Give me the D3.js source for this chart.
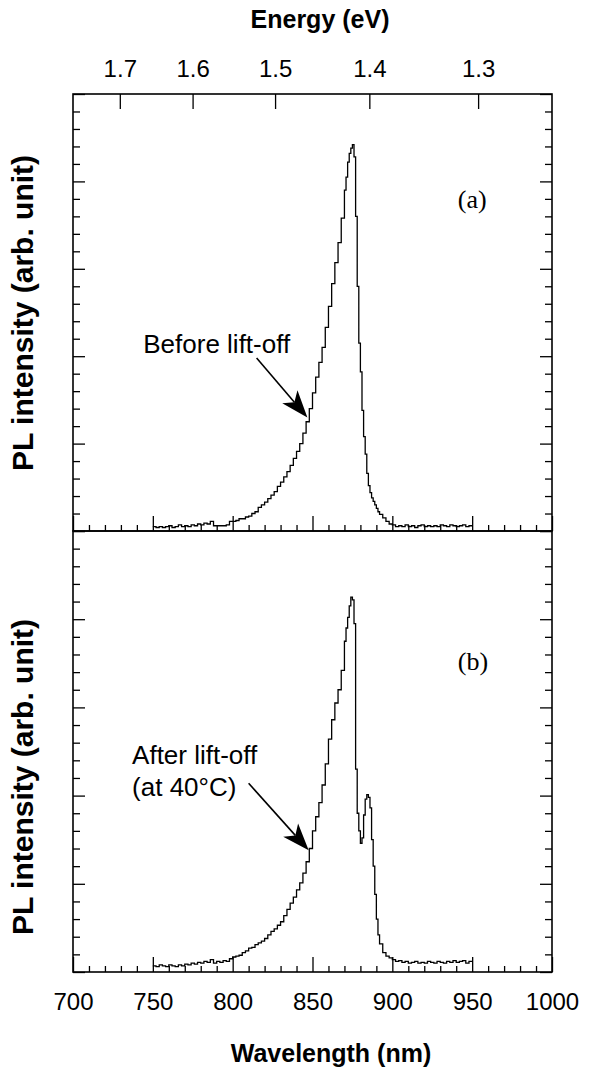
<!DOCTYPE html>
<html>
<head>
<meta charset="utf-8">
<script src="https://d3js.org/d3.v7.min.js"></script>
<style>
  body { margin: 0; background: #fff; }
  svg text { font-family: "Liberation Sans", Arial, Helvetica, sans-serif; fill: #000; }
</style>
</head>
<body>
<div id="chart"></div>
<script>
'use strict';

/***************************** Data ***********************************/

// wavelength grid of the spectra (nm)
var wavelengths = [
  750, 752, 754, 756, 758, 760, 762, 764, 766, 768,
  770, 772, 774, 776, 778, 780, 782, 784, 786, 788,
  790, 792, 794, 796, 798, 800, 802, 804, 806, 808,
  810, 812, 814, 816, 818, 820, 822, 824, 826, 828,
  830, 832, 834, 836, 838, 840, 842, 844, 846, 848,
  850, 852, 854, 856, 858, 860, 862, 864, 866, 868,
  870, 871, 872, 873, 874, 875, 876, 877, 878, 879,
  880, 881, 882, 883, 884, 885, 886, 887, 888, 889,
  890, 891, 892, 894, 896, 898, 900, 902, 904, 906,
  908, 910, 912, 914, 916, 918, 920, 922, 924, 926,
  928, 930, 932, 934, 936, 938, 940, 942, 944, 946,
  948, 950
];

// (a) before lift-off, PL intensity (arb. unit)
var beforeLiftOff = [
  0.05, 0.04, 0.05, 0.04, 0.05, 0.06, 0.04, 0.05, 0.07, 0.05,
  0.06, 0.05, 0.07, 0.06, 0.08, 0.07, 0.09, 0.08, 0.11, 0.06,
  0.06, 0.06, 0.06, 0.07, 0.11, 0.11, 0.12, 0.14, 0.14, 0.16,
  0.17, 0.20, 0.22, 0.27, 0.30, 0.33, 0.37, 0.41, 0.45, 0.51,
  0.56, 0.62, 0.68, 0.75, 0.83, 0.91, 1.00, 1.12, 1.25, 1.40,
  1.58, 1.76, 1.93, 2.10, 2.33, 2.57, 2.83, 3.07, 3.30, 3.58,
  3.90, 4.05, 4.22, 4.32, 4.38, 4.42, 4.28, 3.60, 2.80, 2.15,
  1.82, 1.38, 1.08, 0.88, 0.66, 0.52, 0.44, 0.38, 0.34, 0.30,
  0.26, 0.22, 0.19, 0.15, 0.11, 0.08, 0.07, 0.05, 0.06, 0.05,
  0.07, 0.05, 0.06, 0.04, 0.06, 0.07, 0.05, 0.06, 0.05, 0.06,
  0.05, 0.07, 0.06, 0.05, 0.07, 0.06, 0.05, 0.06, 0.07, 0.05,
  0.06, 0.06
];

// (b) after lift-off at 40 C
var afterLiftOff = [
  0.07, 0.06, 0.08, 0.07, 0.06, 0.08, 0.07, 0.06, 0.08, 0.07,
  0.09, 0.08, 0.10, 0.09, 0.11, 0.10, 0.12, 0.11, 0.14, 0.10,
  0.12, 0.11, 0.13, 0.12, 0.15, 0.17, 0.18, 0.19, 0.22, 0.24,
  0.27, 0.28, 0.31, 0.33, 0.35, 0.38, 0.42, 0.46, 0.49, 0.53,
  0.57, 0.64, 0.71, 0.78, 0.85, 0.93, 1.01, 1.12, 1.25, 1.40,
  1.60, 1.76, 1.92, 2.12, 2.36, 2.64, 2.86, 3.05, 3.20, 3.42,
  3.75, 3.90, 4.02, 4.15, 4.25, 4.22, 3.95, 2.30, 1.80, 1.60,
  1.46, 1.52, 1.78, 1.96, 2.01, 1.98, 1.86, 1.50, 1.20, 0.88,
  0.60, 0.42, 0.32, 0.22, 0.18, 0.16, 0.14, 0.12, 0.13, 0.11,
  0.12, 0.10, 0.11, 0.12, 0.10, 0.11, 0.10, 0.12, 0.11, 0.10,
  0.12, 0.11, 0.10, 0.12, 0.11, 0.13, 0.11, 0.12, 0.13, 0.10,
  0.12, 0.12
];

// axis ticks
var wavelengthTicks = [700, 750, 800, 850, 900, 950, 1000];
var wavelengthMinorTicks = [
  710, 720, 730, 740, 760, 770, 780, 790, 810, 820, 830, 840,
  860, 870, 880, 890, 910, 920, 930, 940, 960, 970, 980, 990
];
var energyTicks = [1.7, 1.6, 1.5, 1.4, 1.3];
var intensityTicks = [0, 1, 2, 3, 4, 5];
var intensityMinorTicks = [
  0.2, 0.4, 0.6, 0.8, 1.2, 1.4, 1.6, 1.8, 2.2, 2.4, 2.6, 2.8,
  3.2, 3.4, 3.6, 3.8, 4.2, 4.4, 4.6, 4.8
];

var hc = 1239.84; // eV nm

/*************************** Layout ***********************************/

var width = 590;
var height = 1071;
var plotLeft = 73;
var plotRight = 552;

var panels = [
  { top: 94, bottom: 531, values: beforeLiftOff, tag: "(a)", tagAt: [941, 3.7], labelY: 313,
    note: ["Before lift-off"], noteAt: [744, 2.04], arrowFrom: [815, 1.98], arrowTo: [846.8, 1.30] },
  { top: 531, bottom: 972, values: afterLiftOff, tag: "(b)", tagAt: [941, 3.42], labelY: 777,
    note: ["After lift-off", "(at 40°C)"], noteAt: [737, 2.36], arrowFrom: [810, 2.14], arrowTo: [847.6, 1.38] }
];

var svg = d3.select("#chart").append("svg")
  .attr("width", width)
  .attr("height", height);

var x = d3.scaleLinear().domain([700, 1000]).range([plotLeft, plotRight]);

function styleAxis(g, fontSize) {
  g.select(".domain").remove();
  g.selectAll(".tick line").attr("stroke", "#000").attr("stroke-width", 1.3);
  g.selectAll(".tick text")
    .attr("font-family", "'Liberation Sans', Arial, Helvetica, sans-serif")
    .attr("font-size", fontSize)
    .attr("fill", "#000");
}

/*************************** Panels ***********************************/

panels.forEach(function(p, i) {

  var y = d3.scaleLinear().domain([0, 5]).range([p.bottom, p.top]);
  var g = svg.append("g").attr("class", "panel");

  // bottom ticks (pointing in)
  g.append("g")
    .attr("transform", "translate(0," + p.bottom + ")")
    .call(d3.axisBottom(x).tickValues(wavelengthMinorTicks).tickSize(-6).tickFormat(""))
    .call(styleAxis, 24);

  var bottomAxis = d3.axisBottom(x).tickValues(wavelengthTicks).tickSize(-15).tickPadding(21)
    .tickFormat(i === 0 ? "" : d3.format("d"));
  g.append("g")
    .attr("transform", "translate(0," + p.bottom + ")")
    .call(bottomAxis)
    .call(styleAxis, 24);

  // left and right ticks
  g.append("g")
    .attr("transform", "translate(" + plotLeft + ",0)")
    .call(d3.axisLeft(y).tickValues(intensityMinorTicks).tickSize(-7).tickFormat(""))
    .call(styleAxis, 24);
  g.append("g")
    .attr("transform", "translate(" + plotLeft + ",0)")
    .call(d3.axisLeft(y).tickValues(intensityTicks).tickSize(-12).tickFormat(""))
    .call(styleAxis, 24);
  g.append("g")
    .attr("transform", "translate(" + plotRight + ",0)")
    .call(d3.axisRight(y).tickValues(intensityMinorTicks).tickSize(-7).tickFormat(""))
    .call(styleAxis, 24);
  g.append("g")
    .attr("transform", "translate(" + plotRight + ",0)")
    .call(d3.axisRight(y).tickValues(intensityTicks).tickSize(-12).tickFormat(""))
    .call(styleAxis, 24);

  // top energy axis only on the upper panel
  if (i === 0) {
    g.append("g")
      .attr("transform", "translate(0," + p.top + ")")
      .call(d3.axisTop(x)
        .tickValues(energyTicks.map(function(e) { return hc / e; }))
        .tickFormat(function(d, k) { return energyTicks[k].toFixed(1); })
        .tickSize(-15)
        .tickPadding(17))
      .call(styleAxis, 24);
  }

  // frame
  g.append("rect")
    .attr("x", plotLeft)
    .attr("y", p.top)
    .attr("width", plotRight - plotLeft)
    .attr("height", p.bottom - p.top)
    .attr("fill", "none")
    .attr("stroke", "#000")
    .attr("stroke-width", 1.6);

  // spectrum
  var line = d3.line()
    .x(function(d, k) { return x(wavelengths[k]); })
    .y(function(d) { return y(d); })
    .curve(d3.curveStepAfter);

  g.append("path")
    .datum(p.values)
    .attr("d", line)
    .attr("fill", "none")
    .attr("stroke", "#000")
    .attr("stroke-width", 1.3)
    .attr("stroke-linejoin", "miter");

  // y label
  g.append("text")
    .attr("transform", "translate(33," + p.labelY + ") rotate(-90)")
    .attr("text-anchor", "middle")
    .attr("font-weight", "bold")
    .attr("font-size", 30)
    .text("PL intensity (arb. unit)");

  // panel tag
  g.append("text")
    .attr("x", x(p.tagAt[0]))
    .attr("y", y(p.tagAt[1]))
    .style("font-family", "'Liberation Serif', 'Times New Roman', serif")
    .attr("font-size", 26)
    .text(p.tag);

  // annotation
  p.note.forEach(function(t, k) {
    g.append("text")
      .attr("x", x(p.noteAt[0]))
      .attr("y", y(p.noteAt[1]) + k * 32)
      .attr("font-size", 26)
      .text(t);
  });

  var x0 = x(p.arrowFrom[0]), y0 = y(p.arrowFrom[1]);
  var x1 = x(p.arrowTo[0]), y1 = y(p.arrowTo[1]);
  var len = Math.sqrt((x1 - x0) * (x1 - x0) + (y1 - y0) * (y1 - y0));
  var ux = (x1 - x0) / len, uy = (y1 - y0) / len;
  var headLen = 27, headHalf = 10, notch = 20;

  g.append("line")
    .attr("x1", x0).attr("y1", y0)
    .attr("x2", x1 - ux * notch).attr("y2", y1 - uy * notch)
    .attr("stroke", "#000")
    .attr("stroke-width", 1.6);

  var head = [
    [x1, y1],
    [x1 - ux * headLen - uy * headHalf, y1 - uy * headLen + ux * headHalf],
    [x1 - ux * notch, y1 - uy * notch],
    [x1 - ux * headLen + uy * headHalf, y1 - uy * headLen - ux * headHalf]
  ];
  g.append("path")
    .attr("d", "M" + head.join("L") + "Z")
    .attr("fill", "#000");
});

/*************************** Titles ***********************************/

svg.append("text")
  .attr("x", 320)
  .attr("y", 28)
  .attr("text-anchor", "middle")
  .attr("font-weight", "bold")
  .attr("font-size", 25)
  .text("Energy (eV)");

svg.append("text")
  .attr("x", 331)
  .attr("y", 1062)
  .attr("text-anchor", "middle")
  .attr("font-weight", "bold")
  .attr("font-size", 25)
  .text("Wavelength (nm)");

</script>
</body>
</html>
